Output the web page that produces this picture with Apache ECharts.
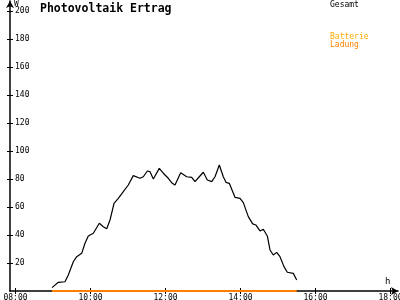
<!DOCTYPE html>
<html><head><meta charset="utf-8">
<script src="https://cdn.jsdelivr.net/npm/echarts@6/dist/echarts.min.js"></script>
<style>html,body{margin:0;padding:0;background:#fff}#c{width:400px;height:300px}</style>
</head><body><div id="c"></div>
<script>
const hours = [8.973, 9.141, 9.32, 9.408, 9.541, 9.632, 9.765, 9.853, 9.941, 10.075, 10.235, 10.341, 10.432, 10.52, 10.627, 10.741, 10.875, 11.008, 11.141, 11.32, 11.408, 11.515, 11.587, 11.675, 11.835, 11.941, 12.075, 12.181, 12.253, 12.405, 12.565, 12.699, 12.787, 12.901, 13.008, 13.115, 13.232, 13.32, 13.435, 13.541, 13.613, 13.701, 13.853, 13.987, 14.075, 14.208, 14.325, 14.413, 14.52, 14.608, 14.715, 14.787, 14.875, 14.965, 15.053, 15.16, 15.248, 15.408, 15.499];
const gesamt = [2.4, 6.2, 6.6, 11.4, 20.9, 24.5, 26.9, 34.1, 39.3, 41.2, 48.4, 45.9, 44.5, 50.7, 62.6, 66.2, 70.9, 75.7, 82.4, 80.5, 81.6, 85.7, 85.2, 80.0, 87.6, 84.1, 80.5, 76.9, 75.7, 84.5, 81.6, 81.2, 78.1, 81.6, 84.8, 79.3, 78.1, 81.6, 90.0, 81.6, 77.6, 76.9, 66.9, 66.2, 63.1, 53.1, 47.9, 47.1, 42.9, 44.1, 39.3, 29.3, 25.7, 27.6, 24.5, 17.4, 13.4, 12.6, 7.9];
const ladungHours = [8.973, 15.5];
const ladung = [0, 0];
const yTicks = [20, 40, 60, 80, 100, 120, 140, 160, 180, 200];
const xTicks = [8, 10, 12, 14, 16, 18];
const titleText = 'Photovoltaik Ertrag';
const legendNames = ['Gesamt', 'Batterie', 'Ladung'];

const mono = 'DejaVu Sans Mono';
const pad = n => (n < 10 ? '0' : '') + n;
const xFmt = v => pad(Math.round(v)) + ':00';
const chart = echarts.init(document.getElementById('c'), null, {renderer: 'canvas'});
const xCommon = {type: 'value', min: 7.853, max: 18.2, position: 'bottom', splitLine: {show: false}};
const yCommon = {type: 'value', min: 0, max: 207.1, position: 'left', splitLine: {show: false}};
chart.setOption({
  animation: false,
  backgroundColor: '#ffffff',
  title: {text: titleText, left: 40, top: 3, padding: 0,
    textStyle: {fontFamily: mono, fontSize: 11.5, fontWeight: 'bold', color: '#000'}},
  grid: {left: 10, right: 2, top: 1, bottom: 9, containLabel: false, outerBoundsMode: 'none'},
  xAxis: [
    Object.assign({}, xCommon, {
      axisLine: {show: true, lineStyle: {color: '#000', width: 1.5}, symbol: ['none', 'arrow'], symbolSize: [6, 7]},
      axisTick: {show: true, inside: false, length: 3, customValues: xTicks, lineStyle: {color: '#000'}},
      axisLabel: {show: true, customValues: xTicks, formatter: xFmt, margin: 3, alignMinLabel: 'center', alignMaxLabel: 'center',
        hideOverlap: false, fontFamily: mono, fontSize: 8, color: '#000'}
    }),
    Object.assign({}, xCommon, {
      axisLine: {show: false},
      axisTick: {show: true, inside: true, length: 3, customValues: xTicks, lineStyle: {color: '#000'}},
      axisLabel: {show: false}
    })
  ],
  yAxis: [
    Object.assign({}, yCommon, {
      axisLine: {show: true, lineStyle: {color: '#000', width: 1.5}, symbol: ['none', 'arrow'], symbolSize: [6, 7]},
      axisTick: {show: true, inside: false, length: 3, customValues: yTicks, lineStyle: {color: '#000'}},
      axisLabel: {show: true, inside: true, customValues: yTicks, margin: 5, fontFamily: mono, fontSize: 8, color: '#000'}
    }),
    Object.assign({}, yCommon, {
      axisLine: {show: false},
      axisTick: {show: true, inside: true, length: 3, customValues: yTicks, lineStyle: {color: '#000'}},
      axisLabel: {show: false}
    })
  ],
  series: [
    {name: legendNames[0], type: 'line', xAxisIndex: 0, yAxisIndex: 0, showSymbol: false,
      data: hours.map((h, i) => [h, gesamt[i]]), lineStyle: {color: '#000', width: 1.2}, itemStyle: {color: '#000'}},
    {name: legendNames[2], type: 'line', xAxisIndex: 0, yAxisIndex: 0, showSymbol: false,
      data: ladungHours.map((h, i) => [h, ladung[i]]), lineStyle: {color: '#ff8000', width: 2}, itemStyle: {color: '#ff8000'}, z: 3}
  ],
  graphic: [
    {type: 'text', left: 14, top: 0, style: {text: 'W', font: '8px ' + mono, fill: '#000'}},
    {type: 'text', left: 385, top: 277, style: {text: 'h', font: '9px ' + mono, fill: '#000'}},
    {type: 'text', left: 330, top: 1, style: {text: legendNames[0], font: '8px ' + mono, fill: '#000'}},
    {type: 'text', left: 330, top: 33, style: {text: legendNames[1], font: '8px ' + mono, fill: '#ffaa00'}},
    {type: 'text', left: 330, top: 41, style: {text: legendNames[2], font: '8px ' + mono, fill: '#ff8000'}}
  ]
});
</script></body></html>
